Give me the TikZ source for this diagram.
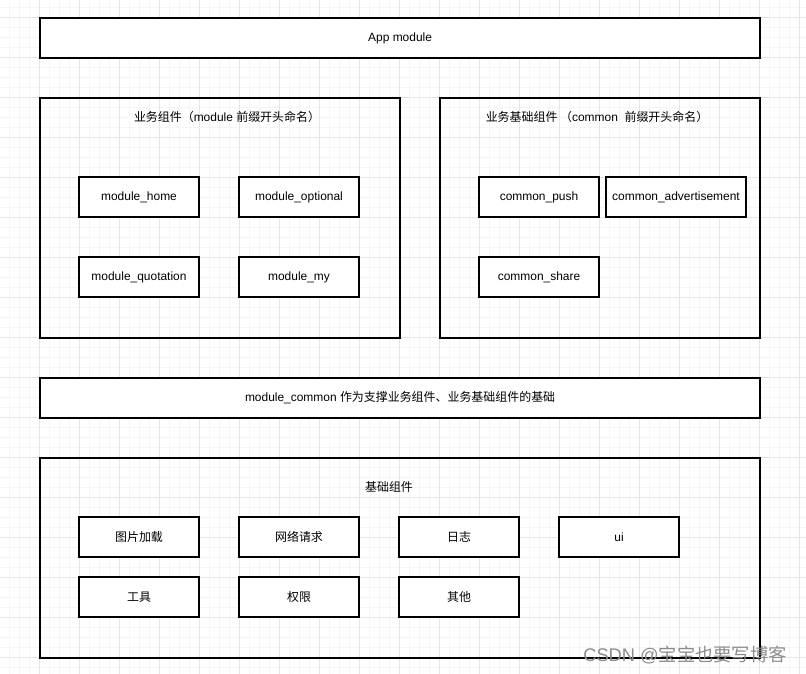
\documentclass[tikz,border=0pt]{standalone}
\usepackage{fontspec}
\setmainfont{Liberation Sans}
\newfontfamily\cjk{Noto Sans CJK SC}

\tikzset{
  gridminor/.style={draw=black!4,line width=0.5pt},
  gridmajor/.style={draw=black!10,line width=0.6pt},
  group/.style={draw,line width=1.4pt,inner sep=0pt,anchor=north west},
  box/.style={draw,line width=1.4pt,fill=white,inner sep=0pt,minimum width=3cm,minimum height=1cm,font=\fontsize{8.5}{10}\selectfont},
  caption/.style={font=\fontsize{8.5}{10}\selectfont}
}

\begin{document}
\begin{tikzpicture}[x=0.025cm,y=-0.025cm]
\useasboundingbox[fill=white] (0,0) rectangle (806,674);
% background grid
\foreach \x in {9,19,...,805} \draw[gridminor] (\x,0) -- (\x,674);
\foreach \y in {7,17,...,673} \draw[gridminor] (0,\y) -- (806,\y);
\foreach \x in {39,79,...,805} \draw[gridmajor] (\x,0) -- (\x,674);
\foreach \y in {17,57,...,673} \draw[gridmajor] (0,\y) -- (806,\y);

\node[box,anchor=north west,minimum width=18cm] (app) at (39,17) {App module};

% business components
\node[group,minimum width=9cm,minimum height=6cm] (biz) at (39,97) {};
\node[caption] (biztitle) at (227,117) {{\cjk 业务组件（}module {\cjk 前缀开头命名）}};
\node[box] (home) at (139,197) {module\_home};
\node[box] (optional) at (299,197) {module\_optional};
\node[box] (quotation) at (139,277) {module\_quotation};
\node[box] (my) at (299,277) {module\_my};

% business base components
\node[group,minimum width=8cm,minimum height=6cm] (bizbase) at (439,97) {};
\node[caption] (bizbasetitle) at (597,117) {{\cjk 业务基础组件 （}common\ \ {\cjk 前缀开头命名）}};
\node[box] (push) at (539,197) {common\_push};
\node[box,minimum width=3.5cm] (advert) at (676,197) {common\_advertisement};
\node[box] (share) at (539,277) {common\_share};

\node[box,anchor=north west,minimum width=18cm] (commonbar) at (39,377) {module\_common {\cjk 作为支撑业务组件、业务基础组件的基础}};

% base components
\node[group,minimum width=18cm,minimum height=5cm] (base) at (39,457) {};
\node[caption] (basetitle) at (389,487) {\cjk 基础组件};
\node[box] (img) at (139,537) {\cjk 图片加载};
\node[box] (net) at (299,537) {\cjk 网络请求};
\node[box] (log) at (459,537) {\cjk 日志};
\node[box] (ui) at (619,537) {ui};
\node[box] (tool) at (139,597) {\cjk 工具};
\node[box] (perm) at (299,597) {\cjk 权限};
\node[box] (other) at (459,597) {\cjk 其他};

\node[text=black!45,font=\fontsize{13}{15}\selectfont] (mark) at (685,655) {CSDN @{\cjk 宝宝也要写博客}};
\end{tikzpicture}
\end{document}
